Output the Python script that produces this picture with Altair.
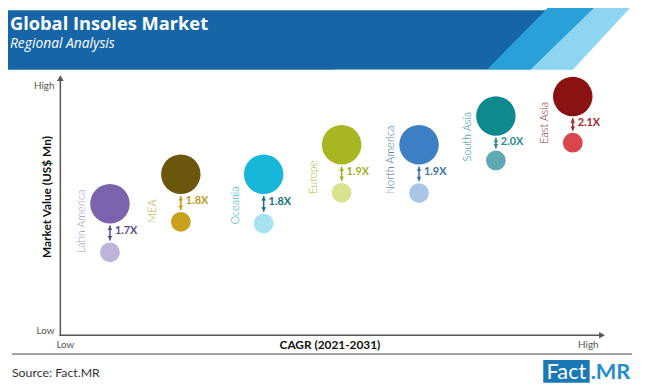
import math
import altair as alt
import pandas as pd

# ---------------- data ----------------
regions = ["Latin America", "MEA", "Oceania", "Europe", "North America", "South Asia", "East Asia"]
cagr_pos = [9.1, 22.1, 37.3, 51.6, 65.8, 79.9, 94.0]          # relative CAGR position (Low=0, High=100)
value_2031 = [51.2, 62.7, 62.7, 74.2, 74.2, 85.4, 93.0]       # relative market value, large bubble
value_2021 = [32.3, 44.2, 43.5, 55.5, 55.4, 68.1, 75.0]       # relative market value, small bubble
multiplier = ["1.7X", "1.8X", "1.8X", "1.9X", "1.9X", "2.0X", "2.1X"]

# ---------------- styles ----------------
big_colors = ["#7a62ad", "#6b570b", "#17b7d9", "#a8b622", "#3c7fc4", "#0e8a8c", "#8a1213"]
small_colors = ["#bdb3da", "#c9a01c", "#a7e2f0", "#dae28f", "#aac6e6", "#5eaab0", "#d8454d"]
label_colors = ["#9d93c6", "#c9a01c", "#22a9cc", "#a8b622", "#3a6ea8", "#1a8a8e", "#8a1213"]
mult_colors = ["#5a4a8c", "#c29a20", "#136e82", "#a2b020", "#3a6ea8", "#2a8a9a", "#a4262c"]

df = pd.DataFrame({"region": regions, "cagr": cagr_pos, "big": value_2031,
                   "small": value_2021, "mult": multiplier})
df["mid"] = (df["big"] + df["small"]) / 2

W, H = 642, 381
xs = alt.Scale(domain=[0, 100], range=[53, 605], nice=False, zero=False)
ys = alt.Scale(domain=[0, 100], range=[329, 69], nice=False, zero=False)


def X():
    return alt.X("cagr:Q", scale=xs, axis=None)


def Y(field):
    return alt.Y(f"{field}:Q", scale=ys, axis=None)


def C(rng):
    return alt.Color("region:N", scale=alt.Scale(domain=regions, range=rng), legend=None)


one = pd.DataFrame({"k": [0]})
base1 = alt.Chart(one)


def stripe(xt, xb, width, color, ext=110):
    # left edge from (xt,-8) to (xb,60); thick rule whose left edge lies on that line
    dx, dy = xb - xt, 68.0
    L = math.hypot(dx, dy)
    d = (dx / L, dy / L)
    n = (dy / L, -dx / L)
    cx0 = xt + n[0] * width / 2 - d[0] * ext
    cy0 = -8 + n[1] * width / 2 - d[1] * ext
    cx1 = xb + n[0] * width / 2 + d[0] * ext
    cy1 = 60 + n[1] * width / 2 + d[1] * ext
    return base1.mark_rule(color=color, strokeWidth=width, strokeCap="butt").encode(
        x=alt.value(cx0), y=alt.value(cy0), x2=alt.value(cx1), y2=alt.value(cy1))


def label(text, x, y, **kw):
    return base1.mark_text(text=text, **kw).encode(x=alt.value(x), y=alt.value(y))


layers = []
# header
layers.append(base1.mark_rect(color="#1565a7").encode(
    x=alt.value(0), x2=alt.value(W), y=alt.value(0), y2=alt.value(60)))
layers.append(stripe(552, 485, 80, "#2aa0d8"))
layers.append(stripe(599, 529, 80, "#8dd5f0"))
layers.append(stripe(635, 572, 160, "#ffffff"))
layers.append(base1.mark_rect(color="#ffffff").encode(
    x=alt.value(330), x2=alt.value(W), y=alt.value(60), y2=alt.value(260)))
layers.append(label("Global Insoles Market", 2, 19.5, font="Open Sans", fontSize=18.5,
                    fontWeight="bold", color="#ffffff", align="left", baseline="alphabetic"))
layers.append(label("Regional Analysis", 2, 38, font="Open Sans", fontSize=14,
                    fontStyle="italic", color="#ffffff", align="left", baseline="alphabetic"))

# axes
axis_col = "#555555"
layers.append(base1.mark_rule(color=axis_col, strokeWidth=1.5).encode(
    x=alt.value(53), y=alt.value(70), y2=alt.value(329.7)))
layers.append(base1.mark_point(shape="triangle-up", filled=True, color=axis_col, size=45, opacity=1).encode(
    x=alt.value(53), y=alt.value(68.5)))
layers.append(base1.mark_rule(color=axis_col, strokeWidth=1.5).encode(
    x=alt.value(52.3), x2=alt.value(601), y=alt.value(329)))
layers.append(base1.mark_point(shape="triangle-right", filled=True, color=axis_col, size=45, opacity=1).encode(
    x=alt.value(601.5), y=alt.value(329)))
ax_font = dict(font="Lato", fontSize=10, color="#555555", baseline="middle")
layers.append(label("High", 47, 77, align="right", **ax_font))
layers.append(label("Low", 47, 325, align="right", **ax_font))
layers.append(label("Low", 49, 339, align="left", **ax_font))
layers.append(label("High", 598, 339, align="right", **ax_font))
layers.append(label("CAGR (2021-2031)", 326, 339, font="Lato", fontSize=12, fontWeight="bold",
                    color="#111111", align="center", baseline="middle"))
layers.append(label("Market Value (US$ Mn)", 40, 189, font="Lato", fontSize=12, fontWeight="bold",
                    color="#111111", align="center", baseline="middle", angle=270))

# data marks
data = alt.Chart(df)
layers.append(data.mark_circle(size=1600, opacity=1).encode(x=X(), y=Y("big"), color=C(big_colors)))
layers.append(data.mark_circle(size=400, opacity=1).encode(x=X(), y=Y("small"), color=C(small_colors)))
layers.append(data.mark_rule(strokeWidth=1.5, yOffset=22, y2Offset=-12).encode(
    x=X(), y=Y("big"), y2=alt.Y2("small:Q"), color=C(mult_colors)))
layers.append(data.mark_point(shape="triangle-up", filled=True, size=22, opacity=1, yOffset=24.5).encode(
    x=X(), y=Y("big"), color=C(mult_colors)))
layers.append(data.mark_point(shape="triangle-down", filled=True, size=22, opacity=1, yOffset=-14.5).encode(
    x=X(), y=Y("small"), color=C(mult_colors)))
layers.append(data.mark_text(font="Lato", fontSize=11, fontWeight="bold", align="left",
                             baseline="middle", dx=5, dy=3.5).encode(
    x=X(), y=Y("mid"), text="mult:N", color=C(mult_colors)))
layers.append(data.mark_text(font="Lato", fontSize=11, fontWeight=300, align="left",
                             baseline="middle", angle=270, xOffset=-28, yOffset=1).encode(
    x=X(), y=Y("small"), text="region:N", color=C(label_colors)))

# footer
layers.append(base1.mark_rule(color="#444444", strokeWidth=1).encode(
    x=alt.value(4), x2=alt.value(632), y=alt.value(348)))
layers.append(label("Source: Fact.MR", 4, 367, font="Lato", fontSize=12.5, color="#333333",
                    align="left", baseline="middle"))
layers.append(base1.mark_rect(color="#1a78b5").encode(
    x=alt.value(542), x2=alt.value(589), y=alt.value(354), y2=alt.value(377)))
layers.append(label("Fact", 565.5, 366, font="Lato", fontSize=22, color="#ffffff",
                    align="center", baseline="middle"))
layers.append(label(".MR", 590, 366, font="Lato", fontSize=22, fontWeight="bold", color="#1f8dce",
                    align="left", baseline="middle"))

chart = alt.layer(*layers).resolve_scale(color="independent").properties(
    width=W, height=H, autosize=alt.AutoSizeParams(type="none"), padding=0,
    background="#ffffff",
).configure_view(stroke=None)

chart.save("out.html", embed_options={"renderer": "svg", "actions": False})
